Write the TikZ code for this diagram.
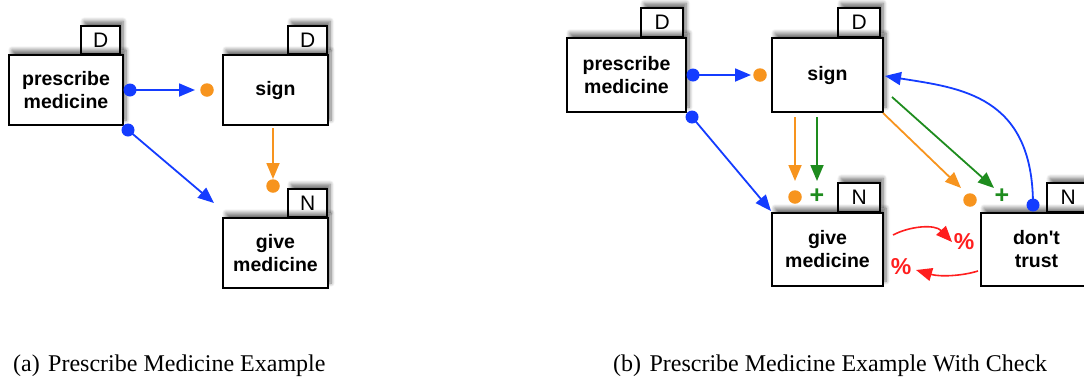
\documentclass[tikz,border=0pt]{standalone}
\usepackage{fontspec}
\setmainfont{Liberation Serif}
\newfontfamily\boxfont{Liberation Sans}
\usetikzlibrary{arrows.meta,shadows.blur}
\definecolor{cblue}{RGB}{20,60,255}
\definecolor{corange}{RGB}{247,148,30}
\definecolor{cgreen}{RGB}{30,140,30}
\definecolor{cred}{RGB}{255,30,30}
\tikzset{
  shad/.style={blur shadow={shadow xshift=3pt,shadow yshift=5pt,shadow blur steps=8,shadow opacity=55,shadow blur radius=4pt}},
  actbox/.style={draw=black,line width=1.7pt,fill=white,shad,align=center,inner sep=0pt,
     font=\boxfont\bfseries\fontsize{19.5}{23}\selectfont},
  tabbox/.style={draw=black,line width=1.7pt,fill=white,shad,inner sep=0pt,anchor=south east,
     font=\boxfont\fontsize{21}{21}\selectfont},
  bdot/.style={circle,fill=cblue,inner sep=0pt,minimum size=13pt},
  odot/.style={circle,fill=corange,inner sep=0pt,minimum size=13.5pt},
  gplus/.style={text=cgreen,inner sep=0pt,font=\boxfont\bfseries\fontsize{25}{25}\selectfont},
  rpct/.style={text=cred,inner sep=0pt,font=\boxfont\bfseries\fontsize{23}{23}\selectfont},
  arrtip/.style={-{Triangle[length=16pt,width=13pt]}},
  barrow/.style={draw=cblue,line width=1.8pt,arrtip},
  oarrow/.style={draw=corange,line width=1.8pt,arrtip},
  garrow/.style={draw=cgreen,line width=1.8pt,arrtip},
  rarrow/.style={draw=cred,line width=1.6pt,arrtip},
  captext/.style={inner sep=0pt,anchor=base west,font=\fontsize{24}{26}\selectfont},
}
\begin{document}
\begin{tikzpicture}[x=1pt,y=-1pt]
\useasboundingbox (0,0) rectangle (1084,378);
% ---------- panel (a)
\node[tabbox,minimum width=39pt,minimum height=28pt] (ta1) at (121,55) {D};
\node[actbox,minimum width=114pt,minimum height=70pt] (pa) at (66,90) {prescribe\\medicine};
\node[tabbox,minimum width=39pt,minimum height=28pt] (ta2) at (328,55) {D};
\node[actbox,minimum width=105pt,minimum height=70pt] (sa) at (275.5,90) {sign};
\node[tabbox,minimum width=39pt,minimum height=28pt] (ta3) at (328,218) {N};
\node[actbox,minimum width=105pt,minimum height=70pt] (ga) at (275.5,253) {give\\medicine};

\node[bdot] (a1) at (130,90) {};
\coordinate (a1e) at (195,90);
\node[odot] (a1o) at (207,90) {};
\draw[barrow] (a1.center) -- (a1e);
\node[bdot] (a2) at (128,130) {};
\coordinate (a2e) at (214,203);
\draw[barrow] (a2.center) -- (a2e);
\coordinate (a3s) at (273,128);
\coordinate (a3e) at (273,179);
\node[odot] (a3o) at (273,186) {};
\draw[oarrow] (a3s) -- (a3e);

\node[captext] (capa) at (13,371) {(a)\hspace{0.35em}Prescribe Medicine Example};

% ---------- panel (b)
\node[tabbox,minimum width=42pt,minimum height=29pt] (tb1) at (684,38) {D};
\node[actbox,minimum width=119pt,minimum height=74pt] (pb) at (626.5,75) {prescribe\\medicine};
\node[tabbox,minimum width=42pt,minimum height=29pt] (tb2) at (881,38) {D};
\node[actbox,minimum width=111pt,minimum height=74pt] (sb) at (827.5,75) {sign};
\node[tabbox,minimum width=42pt,minimum height=29pt] (tb3) at (881,213) {N};
\node[actbox,minimum width=111pt,minimum height=73pt] (gb) at (827.5,249.5) {give\\medicine};
\node[tabbox,minimum width=42pt,minimum height=29pt] (tb4) at (1090,213) {N};
\node[actbox,minimum width=111pt,minimum height=73pt] (db) at (1036.5,249.5) {don't\\trust};

\node[bdot] (b1) at (693,75) {};
\coordinate (b1e) at (751,75);
\node[odot] (b1o) at (760,75) {};
\draw[barrow] (b1.center) -- (b1e);
\node[bdot] (b2) at (692,117) {};
\coordinate (b2e) at (771,211);
\draw[barrow] (b2.center) -- (b2e);

\coordinate (b3s) at (795,117);
\coordinate (b3e) at (795,181);
\node[odot] (b3o) at (795,197) {};
\draw[oarrow] (b3s) -- (b3e);
\coordinate (b4s) at (817,117);
\coordinate (b4e) at (817,181);
\node[gplus] (b4p) at (817,196) {+};
\draw[garrow] (b4s) -- (b4e);

\coordinate (b5s) at (883,113);
\coordinate (b5e) at (961,188);
\node[odot] (b5o) at (970,200) {};
\draw[oarrow] (b5s) -- (b5e);
\coordinate (b6s) at (892,97);
\coordinate (b6e) at (994,188);
\node[gplus] (b6p) at (1002,196) {+};
\draw[garrow] (b6s) -- (b6e);

\node[bdot] (b7) at (1033,205) {};
\coordinate (b7e) at (885,76);
\draw[barrow] (b7.center) .. controls (1033,95) and (960,88) .. (b7e);

\coordinate (r1s) at (893,235);
\coordinate (r1e) at (952,242);
\node[rpct] (r1p) at (964,242) {\%};
\draw[rarrow] (r1s) .. controls (910,226) and (935,224) .. (r1e);
\coordinate (r2s) at (978,271);
\coordinate (r2e) at (916,270);
\node[rpct] (r2p) at (901,267) {\%};
\draw[rarrow] (r2s) .. controls (962,276) and (940,277) .. (r2e);

\node[captext] (capb) at (613,371) {(b)\hspace{0.35em}Prescribe Medicine Example With Check};
\end{tikzpicture}
\end{document}
